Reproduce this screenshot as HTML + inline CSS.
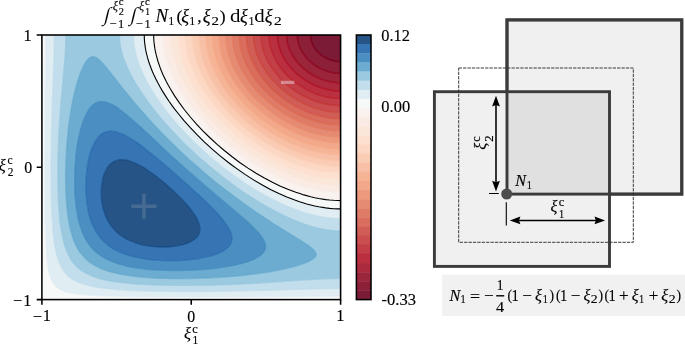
<!DOCTYPE html>
<html lang="en"><head><meta charset="utf-8"><title>Shape function integral</title>
<style>html,body{margin:0;padding:0;background:#fff}svg{display:block}text{font-family:"Liberation Serif", "DejaVu Serif", serif;fill:#000;stroke:#000;stroke-width:0.15px}.i{font-style:italic}</style></head><body>
<svg width="685" height="344" viewBox="0 0 685 344">
<rect width="685" height="344" fill="#fff"/>
<clipPath id="ax"><rect x="41.9" y="35.0" width="298.7" height="264.6"/></clipPath>
<g clip-path="url(#ax)">
<path d="M337.4,61.5 340.6,61.6 340.6,35.0 313.7,35.0 310.5,35.0 310.7,37.6 311.0,39.4 311.7,42.1 313.2,45.6 314.8,48.2 316.8,50.9 318.7,52.8 320.7,54.6 322.9,56.2 325.8,57.9 328.7,59.2 331.6,60.3 334.6,61.0Z" fill="#6d0220" fill-opacity="0.90" stroke="#6d0220" stroke-opacity="0.90" stroke-width="1.50" fill-rule="evenodd"/>
<path d="M334.2,72.9 337.6,73.3 340.6,73.4 340.6,61.6 337.6,61.5 335.6,61.2 332.6,60.6 330.6,60.0 327.7,58.8 325.8,57.9 323.7,56.7 321.7,55.3 319.5,53.5 316.8,50.9 315.4,49.1 313.7,46.5 312.4,43.8 311.4,41.2 310.7,37.8 310.5,35.0 304.8,35.0 297.2,35.0 297.4,37.6 297.7,40.3 298.3,42.9 299.1,45.6 300.2,48.2 301.6,50.9 303.2,53.5 304.8,55.7 307.4,58.8 310.7,62.0 313.7,64.4 317.7,67.0 321.7,69.1 325.7,70.8 329.6,72.0Z" fill="#7f0823" fill-opacity="0.90" stroke="#7f0823" stroke-opacity="0.90" stroke-width="1.50" fill-rule="evenodd"/>
<path d="M336.3,82.6 340.6,82.8 340.6,73.4 336.6,73.2 332.6,72.7 329.6,72.0 325.7,70.8 322.3,69.4 318.7,67.6 315.7,65.8 312.7,63.7 309.7,61.2 306.6,57.9 303.8,54.4 301.6,50.9 299.8,47.2 298.3,42.9 297.6,39.4 297.2,35.0 291.8,35.0 286.6,35.0 286.9,39.4 287.7,43.8 288.5,46.5 289.4,49.1 290.6,51.8 291.9,54.4 293.5,57.0 295.3,59.7 298.9,64.1 302.8,67.9 306.7,71.2 310.7,73.9 315.7,76.7 320.7,79.0 325.7,80.6 330.6,81.8Z" fill="#900d26" fill-opacity="0.90" stroke="#900d26" stroke-opacity="0.90" stroke-width="1.50" fill-rule="evenodd"/>
<path d="M333.2,90.6 336.6,90.9 340.6,91.0 340.6,82.8 335.6,82.6 330.6,81.8 325.7,80.6 321.1,79.1 316.7,77.2 311.7,74.5 307.7,71.9 303.5,68.5 299.8,65.0 296.7,61.5 293.8,57.5 291.4,53.5 289.8,50.0 288.2,45.6 287.5,42.9 287.0,40.3 286.7,37.6 286.6,35.0 285.8,35.0 277.3,35.0 277.4,37.6 277.8,41.2 278.5,44.7 279.5,48.2 280.8,51.8 281.9,54.4 283.8,57.9 285.8,61.3 287.8,64.1 290.7,67.6 294.9,72.0 299.8,76.3 304.8,79.9 309.7,82.9 315.7,85.8 321.4,87.9 327.7,89.6Z" fill="#a21328" fill-opacity="0.90" stroke="#a21328" stroke-opacity="0.90" stroke-width="1.50" fill-rule="evenodd"/>
<path d="M339.4,98.5 340.6,98.5 340.6,91.0 334.6,90.7 328.7,89.8 322.7,88.3 316.7,86.2 310.9,83.5 305.8,80.5 300.8,77.1 295.8,72.9 291.5,68.5 287.8,64.1 284.8,59.7 283.3,57.0 281.9,54.4 279.9,49.4 278.5,44.7 278.0,42.1 277.6,39.4 277.3,35.0 270.9,35.0 268.9,35.0 269.2,40.3 269.9,44.6 270.8,48.2 272.0,51.8 273.4,55.3 274.9,58.4 276.6,61.5 280.0,66.8 282.0,69.4 284.8,72.7 287.5,75.6 289.8,77.8 294.8,82.0 297.8,84.2 300.8,86.2 306.7,89.7 310.2,91.4 313.7,93.0 319.7,95.2 322.7,96.1 326.7,97.0 332.6,98.0 335.6,98.3Z" fill="#b3192c" fill-opacity="0.90" stroke="#b3192c" stroke-opacity="0.90" stroke-width="1.50" fill-rule="evenodd"/>
<path d="M329.8,104.7 335.6,105.3 340.6,105.5 340.6,98.5 334.6,98.2 328.7,97.4 325.7,96.8 321.9,95.9 315.7,93.8 309.7,91.3 303.5,87.9 297.8,84.2 292.3,80.0 287.5,75.6 285.0,72.9 282.7,70.3 278.8,65.0 275.6,59.7 273.0,54.4 272.0,51.8 270.9,48.5 270.1,45.6 269.6,42.9 269.0,37.6 268.9,35.0 261.0,35.0 261.1,37.6 261.4,41.2 261.9,44.6 262.6,47.3 263.5,50.9 264.9,54.8 266.7,58.8 268.5,62.3 270.6,65.9 272.9,69.4 275.9,73.3 278.9,76.8 283.8,81.9 286.8,84.6 289.8,87.0 295.8,91.3 301.8,95.0 305.1,96.7 308.7,98.4 315.7,101.2 322.7,103.3 326.7,104.1Z" fill="#bb2a34" fill-opacity="0.90" stroke="#bb2a34" stroke-opacity="0.90" stroke-width="1.50" fill-rule="evenodd"/>
<path d="M332.7,111.7 336.6,112.0 340.6,112.1 340.6,105.5 336.6,105.4 332.6,105.1 328.7,104.5 323.7,103.5 319.7,102.5 315.7,101.2 311.7,99.7 307.7,98.0 303.8,96.0 300.2,94.1 296.8,92.0 292.8,89.3 288.8,86.2 285.8,83.7 282.8,80.9 279.9,77.9 275.6,72.9 271.7,67.6 268.5,62.3 265.9,57.0 263.8,51.8 262.9,48.8 262.1,45.6 261.3,40.3 261.0,35.0 253.5,35.0 253.6,38.5 254.0,42.1 254.8,46.5 255.6,50.0 257.0,54.4 258.8,58.8 260.9,63.2 262.9,66.8 265.7,71.2 268.2,74.7 271.0,78.2 274.2,81.7 276.9,84.5 280.5,87.9 283.6,90.6 286.8,93.1 290.7,95.9 293.8,97.9 297.8,100.3 301.0,102.0 304.8,103.9 308.7,105.6 312.7,107.1 316.7,108.4 320.7,109.6 324.7,110.5 328.7,111.2Z" fill="#c43b3c" fill-opacity="0.90" stroke="#c43b3c" stroke-opacity="0.90" stroke-width="1.50" fill-rule="evenodd"/>
<path d="M330.6,117.9 335.6,118.4 340.6,118.5 340.6,112.1 336.6,112.0 331.6,111.6 326.7,110.9 322.7,110.1 318.7,109.0 313.7,107.5 309.7,106.0 305.8,104.3 301.8,102.4 297.8,100.3 293.4,97.6 289.4,95.0 285.8,92.3 281.9,89.1 278.6,86.2 275.0,82.6 270.3,77.3 266.3,72.0 262.9,66.8 260.0,61.5 257.7,56.2 256.7,53.5 255.6,50.0 255.0,47.3 254.3,43.8 253.6,38.5 253.5,35.0 246.3,35.0 246.5,39.4 247.1,44.7 248.1,49.1 249.6,54.4 251.3,58.8 253.0,62.7 255.1,66.8 257.7,71.2 260.6,75.6 263.3,79.1 266.2,82.6 269.9,86.7 272.9,89.7 275.9,92.4 278.9,95.0 282.9,98.1 285.9,100.3 289.9,102.9 293.8,105.3 297.8,107.5 301.8,109.4 305.8,111.2 309.7,112.8 313.7,114.1 317.7,115.3 321.7,116.3 325.7,117.2Z" fill="#cc4c44" fill-opacity="0.90" stroke="#cc4c44" stroke-opacity="0.90" stroke-width="1.50" fill-rule="evenodd"/>
<path d="M330.1,124.1 335.6,124.6 340.6,124.7 340.6,118.5 336.6,118.4 331.6,118.0 327.7,117.5 322.7,116.6 317.7,115.3 312.7,113.8 307.7,112.0 303.8,110.3 299.3,108.2 294.8,105.8 289.9,102.9 285.8,100.2 281.9,97.3 277.8,94.1 273.9,90.6 270.2,87.0 265.4,81.7 260.6,75.6 256.6,69.4 253.2,63.2 250.6,57.0 248.5,50.9 247.1,44.7 246.6,41.2 246.4,38.5 246.3,35.0 239.3,35.0 239.5,40.3 240.3,45.6 241.4,50.9 243.3,57.0 245.1,61.5 247.1,65.9 249.5,70.3 252.0,74.4 254.6,78.2 257.9,82.6 261.7,87.0 264.9,90.6 268.5,94.1 271.9,97.2 275.6,100.3 279.1,102.9 282.9,105.6 286.8,108.2 291.2,110.9 295.8,113.3 299.8,115.2 303.8,117.0 308.4,118.8 312.7,120.3 316.7,121.4 321.7,122.6 325.7,123.4Z" fill="#d55d4c" fill-opacity="0.90" stroke="#d55d4c" stroke-opacity="0.90" stroke-width="1.50" fill-rule="evenodd"/>
<path d="M330.8,130.3 335.6,130.7 340.6,130.8 340.6,124.7 336.6,124.6 331.6,124.3 326.7,123.6 321.7,122.6 316.7,121.4 311.7,119.9 306.7,118.2 301.8,116.1 296.8,113.8 291.8,111.2 286.8,108.2 282.8,105.6 277.9,102.0 273.9,98.8 269.9,95.4 265.8,91.4 260.1,85.3 257.2,81.7 255.0,78.7 252.8,75.6 250.5,72.0 248.5,68.5 246.7,65.0 245.1,61.5 243.7,57.9 242.4,54.4 241.4,50.9 240.6,47.3 240.0,43.8 239.4,37.6 239.3,35.0 232.5,35.0 232.7,40.3 233.5,46.5 234.9,52.6 236.9,58.8 238.7,63.2 241.0,68.2 243.6,72.9 246.4,77.3 249.4,81.7 253.0,86.4 256.6,90.6 260.7,95.0 264.4,98.5 268.3,102.0 271.9,105.0 276.1,108.2 280.9,111.5 284.8,114.0 288.8,116.3 293.8,119.0 298.8,121.3 303.2,123.2 307.7,124.9 312.7,126.5 316.7,127.7 321.7,128.8 326.7,129.7Z" fill="#dc6e57" fill-opacity="0.90" stroke="#dc6e57" stroke-opacity="0.90" stroke-width="1.50" fill-rule="evenodd"/>
<path d="M332.6,136.4 336.6,136.7 340.6,136.8 340.6,130.8 335.6,130.7 330.6,130.2 325.7,129.6 319.7,128.4 314.7,127.1 309.7,125.6 304.8,123.8 299.0,121.4 293.8,119.0 288.8,116.3 283.8,113.4 278.9,110.1 273.9,106.5 269.9,103.4 265.9,99.9 261.6,95.9 258.2,92.3 255.0,88.8 252.1,85.3 249.4,81.7 246.9,78.2 244.7,74.7 242.6,71.2 240.3,66.8 238.7,63.2 237.1,59.1 235.7,55.3 234.7,51.8 233.7,47.3 233.1,43.8 232.7,40.3 232.5,36.8 232.5,35.0 225.7,35.0 226.0,41.2 226.4,44.7 227.1,48.2 228.6,54.4 229.7,57.9 231.0,61.5 233.1,66.4 235.4,71.2 238.0,75.8 241.3,80.9 245.0,86.1 248.6,90.6 252.4,95.0 256.7,99.4 260.9,103.4 264.9,106.9 268.9,110.1 273.9,113.8 278.6,117.0 282.9,119.7 287.8,122.5 292.8,125.0 297.8,127.3 302.8,129.4 307.7,131.2 312.7,132.7 317.7,134.0 322.7,135.1 327.7,135.9Z" fill="#e37e64" fill-opacity="0.90" stroke="#e37e64" stroke-opacity="0.90" stroke-width="1.50" fill-rule="evenodd"/>
<path d="M336.2,142.6 340.6,142.7 340.6,136.8 335.6,136.6 330.6,136.2 325.5,135.5 319.7,134.5 313.7,133.0 308.7,131.5 302.8,129.4 297.8,127.3 292.7,125.0 286.8,121.9 281.9,119.0 276.9,115.9 271.9,112.4 266.9,108.5 262.3,104.7 258.0,100.6 254.1,96.7 251.0,93.4 247.8,89.7 245.0,86.2 242.0,82.0 239.5,78.2 237.1,74.1 235.0,70.3 232.8,65.9 231.0,61.5 229.4,57.0 228.1,52.6 227.1,48.2 226.3,43.8 225.9,39.4 225.7,35.0 224.1,35.0 219.0,35.0 219.1,37.6 219.6,43.8 220.1,47.3 220.9,50.9 221.8,54.4 222.8,57.9 225.5,65.0 227.9,70.3 230.7,75.6 233.9,80.9 237.1,85.5 240.8,90.6 245.0,95.6 249.3,100.3 253.7,104.7 258.0,108.6 262.7,112.6 267.2,116.1 272.2,119.7 276.9,122.8 282.0,125.8 287.8,129.0 292.8,131.4 298.2,133.8 303.8,135.9 308.7,137.6 314.7,139.3 320.7,140.7 325.7,141.6 330.6,142.2Z" fill="#ea8e70" fill-opacity="0.90" stroke="#ea8e70" stroke-opacity="0.90" stroke-width="1.50" fill-rule="evenodd"/>
<path d="M328.6,147.9 334.6,148.4 340.6,148.6 340.6,142.7 335.6,142.6 329.6,142.1 323.7,141.2 317.7,140.0 311.7,138.5 305.8,136.6 300.4,134.7 294.8,132.3 288.8,129.5 283.6,126.7 277.9,123.4 272.2,119.7 266.9,115.9 261.6,111.7 256.5,107.3 252.0,103.0 248.4,99.4 245.0,95.6 242.0,92.1 238.8,87.9 236.1,84.1 233.3,80.0 231.1,76.2 228.8,72.0 227.1,68.5 225.1,64.1 223.4,59.7 222.3,56.2 221.1,51.9 220.3,48.2 219.6,43.8 219.2,40.3 219.0,35.0 212.3,35.0 212.4,38.5 212.7,42.1 213.1,45.6 213.9,50.0 214.8,53.5 216.0,57.9 217.2,61.5 218.9,65.9 221.3,71.2 224.1,76.5 227.2,81.7 230.7,87.0 234.1,91.6 238.2,96.7 242.8,102.0 247.1,106.4 251.8,110.9 256.0,114.5 260.9,118.6 265.9,122.3 270.9,125.7 275.9,128.9 280.9,131.8 285.8,134.5 290.8,136.9 295.8,139.1 301.8,141.4 306.7,143.1 312.7,144.8 317.7,146.0 323.7,147.2Z" fill="#f19e7d" fill-opacity="0.90" stroke="#f19e7d" stroke-opacity="0.90" stroke-width="1.50" fill-rule="evenodd"/>
<path d="M330.7,154.1 335.6,154.4 340.6,154.6 340.6,148.6 334.6,148.4 328.7,147.9 322.7,147.0 316.7,145.8 310.7,144.3 303.8,142.1 297.8,139.9 291.8,137.3 285.8,134.5 279.9,131.2 273.9,127.7 267.9,123.7 262.4,119.7 257.0,115.4 252.0,111.1 247.1,106.4 243.0,102.2 239.7,98.5 236.1,94.2 233.1,90.3 230.1,86.2 227.2,81.7 224.6,77.3 222.2,72.9 220.1,68.5 218.2,64.1 216.6,59.7 215.2,55.3 214.1,50.9 213.3,46.5 212.7,42.1 212.4,37.6 212.3,35.0 205.6,35.0 205.7,38.5 206.1,42.9 206.6,46.5 207.4,50.9 208.2,54.4 209.5,58.8 210.7,62.3 212.4,66.8 215.1,72.8 218.0,78.2 221.1,83.5 224.6,88.8 228.4,94.1 232.6,99.4 237.3,104.7 242.4,110.0 247.0,114.4 252.0,118.7 257.0,122.8 262.2,126.7 267.3,130.3 272.9,133.8 278.9,137.3 284.8,140.4 289.8,142.8 295.8,145.3 301.8,147.6 307.7,149.5 313.7,151.1 319.7,152.5 325.7,153.5Z" fill="#f5ac8b" fill-opacity="0.90" stroke="#f5ac8b" stroke-opacity="0.90" stroke-width="1.50" fill-rule="evenodd"/>
<path d="M332.7,160.2 340.6,160.5 340.6,154.6 334.6,154.4 328.7,153.9 322.7,153.0 315.7,151.6 309.7,150.1 302.8,147.9 295.8,145.3 289.8,142.8 282.9,139.4 276.9,136.1 270.9,132.6 264.9,128.6 259.0,124.3 254.0,120.4 248.0,115.3 243.0,110.6 238.9,106.4 234.9,102.0 231.1,97.5 227.1,92.3 224.0,87.9 221.1,83.5 218.1,78.5 215.6,73.8 213.5,69.4 211.4,64.1 209.5,58.8 208.2,54.4 207.0,49.1 206.3,44.7 205.8,40.3 205.6,35.9 205.6,35.0 198.9,35.0 199.0,38.5 199.3,42.9 199.8,46.5 200.6,50.9 201.4,54.4 202.6,58.8 204.1,63.2 205.8,67.6 208.6,73.8 211.8,80.0 215.1,85.6 219.0,91.4 223.1,97.1 227.9,102.9 232.6,108.2 238.0,113.9 243.0,118.6 248.3,123.2 254.0,127.7 260.0,132.1 265.9,136.2 271.9,139.9 277.9,143.3 283.8,146.3 289.8,149.1 295.8,151.6 301.8,153.7 308.7,155.9 314.7,157.4 320.7,158.7 326.7,159.6Z" fill="#f7b99c" fill-opacity="0.90" stroke="#f7b99c" stroke-opacity="0.90" stroke-width="1.50" fill-rule="evenodd"/>
<path d="M333.9,166.4 340.6,166.6 340.6,160.5 334.6,160.4 327.7,159.7 321.7,158.9 314.7,157.4 308.7,155.9 301.8,153.7 294.8,151.2 287.8,148.2 280.9,144.8 274.9,141.6 267.9,137.5 261.9,133.5 256.0,129.2 250.0,124.6 244.3,119.7 238.6,114.4 234.1,109.8 229.4,104.7 225.1,99.6 221.5,95.0 218.1,90.2 214.9,85.3 211.8,80.0 209.2,75.0 206.9,70.3 204.8,65.0 202.9,59.7 201.4,54.4 200.2,49.1 199.5,44.7 199.0,39.4 198.9,35.0 192.0,35.0 192.0,35.9 192.1,39.4 192.5,43.8 193.2,48.2 194.1,52.6 194.9,56.2 196.2,60.6 197.8,65.0 199.5,69.4 202.3,75.6 205.6,81.7 209.2,87.9 213.4,94.1 218.0,100.3 223.0,106.4 228.1,112.1 233.8,117.9 239.5,123.2 245.0,128.0 251.0,132.7 257.0,137.1 262.9,141.1 268.9,144.8 274.9,148.3 281.9,151.8 287.8,154.6 294.8,157.5 301.8,160.0 307.7,161.8 314.7,163.6 320.7,164.8 327.7,165.8Z" fill="#f9c6ac" fill-opacity="0.90" stroke="#f9c6ac" stroke-opacity="0.90" stroke-width="1.50" fill-rule="evenodd"/>
<path d="M333.1,172.6 340.6,172.9 340.6,166.6 334.6,166.5 327.7,165.8 320.7,164.8 313.7,163.4 306.7,161.5 299.8,159.3 292.8,156.7 285.8,153.7 278.9,150.4 271.9,146.6 265.2,142.6 259.0,138.5 252.4,133.8 246.0,128.8 240.0,123.7 234.1,118.2 229.1,113.1 224.5,108.2 220.8,103.8 216.6,98.5 212.8,93.2 209.2,87.9 206.1,82.6 203.2,77.3 200.7,72.0 198.4,66.8 196.5,61.5 194.9,56.2 193.7,50.9 192.8,45.6 192.2,40.3 192.0,35.9 192.0,35.0 185.0,35.0 185.0,37.6 185.2,41.2 185.7,45.6 186.4,50.0 187.4,54.4 188.6,58.8 189.7,62.3 191.3,66.8 193.1,71.2 195.9,77.3 199.7,84.4 203.5,90.6 207.6,96.7 212.3,102.9 217.3,109.1 222.9,115.3 229.1,121.6 234.6,126.7 240.7,132.0 247.0,137.0 253.0,141.5 259.0,145.5 265.9,149.9 272.9,153.9 279.9,157.5 286.8,160.7 293.8,163.5 300.8,166.0 306.7,167.9 313.7,169.7 319.7,170.9 326.7,172.0Z" fill="#fcd3bc" fill-opacity="0.90" stroke="#fcd3bc" stroke-opacity="0.90" stroke-width="1.50" fill-rule="evenodd"/>
<path d="M330.1,178.8 335.6,179.2 340.6,179.3 340.6,172.9 333.6,172.6 326.7,172.0 319.7,170.9 312.7,169.4 305.8,167.6 298.8,165.4 290.8,162.4 283.8,159.4 275.9,155.5 268.9,151.7 261.9,147.5 255.0,142.8 248.0,137.8 241.8,132.9 235.1,127.2 229.1,121.6 224.1,116.6 219.6,111.7 215.1,106.4 210.9,101.2 207.0,95.9 203.5,90.6 200.2,85.3 197.3,80.0 194.7,74.7 192.3,69.4 190.3,64.1 188.6,58.8 187.2,53.5 186.1,48.2 185.4,42.9 185.1,38.5 185.0,35.0 177.7,35.0 177.8,38.5 178.2,42.9 178.7,47.3 179.5,51.8 180.6,56.2 181.8,60.6 183.3,65.0 185.0,69.4 186.8,73.8 189.8,80.0 193.7,87.0 198.1,94.1 202.4,100.3 207.1,106.4 212.3,112.6 217.8,118.8 224.1,125.1 230.1,130.7 236.1,135.9 242.2,140.8 249.0,145.9 255.0,150.0 261.9,154.5 268.9,158.5 275.9,162.2 282.9,165.6 289.8,168.6 296.8,171.2 303.8,173.5 310.7,175.4 316.7,176.8 323.7,178.0Z" fill="#fdddcb" fill-opacity="0.90" stroke="#fdddcb" stroke-opacity="0.90" stroke-width="1.50" fill-rule="evenodd"/>
<path d="M335.3,185.8 340.6,185.9 340.6,179.3 333.6,179.0 326.7,178.4 319.7,177.3 312.7,175.9 305.8,174.1 297.8,171.6 289.8,168.6 282.9,165.6 274.9,161.7 267.9,158.0 260.0,153.2 253.0,148.7 246.0,143.7 239.0,138.3 232.1,132.5 225.8,126.7 220.4,121.4 215.4,116.1 210.7,110.9 206.4,105.6 202.2,100.0 198.1,94.1 194.8,88.8 191.2,82.6 188.1,76.5 185.7,71.2 183.6,65.9 181.8,60.6 179.9,53.5 178.7,47.3 178.0,41.2 177.7,35.0 176.3,35.0 170.2,35.0 170.3,38.5 170.6,42.9 171.0,46.5 171.8,50.9 172.8,55.3 174.0,59.7 176.6,67.6 178.4,72.0 180.4,76.5 184.0,83.5 188.0,90.6 192.6,97.6 197.2,104.1 202.5,110.9 208.6,117.9 214.3,124.1 221.1,130.8 227.3,136.4 234.1,142.1 241.0,147.6 248.0,152.7 255.4,157.6 262.9,162.2 269.9,166.1 277.9,170.2 285.8,173.8 292.8,176.6 299.8,179.0 306.7,181.1 314.7,183.1 321.7,184.4 328.7,185.3Z" fill="#fbe4d6" fill-opacity="0.90" stroke="#fbe4d6" stroke-opacity="0.90" stroke-width="1.50" fill-rule="evenodd"/>
<path d="M335.4,192.9 340.6,193.0 340.6,185.9 333.6,185.7 326.7,185.1 318.7,183.9 311.7,182.4 303.8,180.2 296.8,178.0 288.8,175.0 280.9,171.6 272.9,167.7 264.9,163.4 257.0,158.6 250.0,154.0 242.6,148.8 235.1,142.9 228.1,137.1 221.1,130.8 215.2,125.0 210.2,119.7 205.2,114.0 200.4,108.2 196.2,102.8 192.0,96.7 188.0,90.6 184.4,84.4 181.7,79.1 178.8,72.9 176.6,67.6 174.8,62.3 172.8,55.3 171.3,48.2 170.4,41.2 170.2,35.0 168.3,35.0 162.2,35.0 162.4,39.4 162.7,43.8 163.2,47.3 164.0,51.8 165.0,56.2 166.3,60.6 167.7,65.0 169.3,69.4 171.2,73.8 173.2,78.2 176.8,85.3 181.0,92.3 185.6,99.4 191.3,107.3 197.0,114.4 203.1,121.4 209.8,128.5 216.1,134.7 222.9,140.8 230.1,146.9 237.1,152.4 245.0,158.2 253.0,163.5 260.0,167.8 267.9,172.3 275.9,176.4 283.8,180.1 291.8,183.3 299.8,186.1 306.7,188.2 313.7,189.9 321.7,191.4 328.7,192.4Z" fill="#faeae1" fill-opacity="0.90" stroke="#faeae1" stroke-opacity="0.90" stroke-width="1.50" fill-rule="evenodd"/>
<path d="M328.7,199.9 334.6,200.4 340.6,200.6 340.6,193.0 333.6,192.8 325.7,192.0 317.7,190.7 309.7,189.0 301.8,186.7 293.8,184.0 285.8,180.9 276.9,176.9 267.9,172.3 260.0,167.8 252.0,162.9 244.0,157.5 236.1,151.7 228.1,145.3 220.9,139.1 213.3,132.0 208.0,126.7 202.3,120.6 197.0,114.4 192.0,108.2 188.1,102.9 183.8,96.7 179.9,90.6 176.4,84.4 173.2,78.2 170.4,72.0 168.0,65.9 166.3,60.6 164.6,54.4 163.5,49.1 162.7,43.8 162.3,38.5 162.2,35.0 153.7,35.0 153.8,38.5 154.1,42.9 154.7,47.3 155.7,52.6 156.7,57.0 158.0,61.5 159.8,66.8 161.9,72.0 164.3,77.3 167.8,84.4 172.4,92.3 177.0,99.4 182.6,107.3 188.9,115.3 194.9,122.3 201.4,129.4 208.2,136.1 215.1,142.6 222.1,148.7 229.7,155.0 237.1,160.5 244.2,165.5 252.0,170.7 260.0,175.5 267.9,180.0 274.9,183.5 282.9,187.2 290.8,190.5 298.8,193.3 306.7,195.7 313.7,197.5 321.7,199.0Z" fill="#f8f1ed" fill-opacity="0.90" stroke="#f8f1ed" stroke-opacity="0.90" stroke-width="1.50" fill-rule="evenodd"/>
<path d="M41.9,299.6 340.6,299.6 340.6,296.2 226.1,296.9 177.3,297.0 130.5,296.6 113.6,296.2 99.6,295.7 89.9,295.2 81.7,294.5 74.8,293.6 69.8,292.7 65.8,291.7 61.8,290.2 58.8,288.6 56.9,287.3 55.9,286.4 53.8,284.0 52.0,281.1 50.5,277.6 49.2,273.1 48.2,267.8 47.4,262.6 46.7,255.5 46.2,247.6 45.7,235.2 45.3,219.3 45.0,200.8 44.9,178.8 45.0,136.4 45.6,61.5 45.7,35.0 41.9,35.0ZM334.7,208.8 340.6,208.9 340.6,200.6 333.6,200.3 325.7,199.6 317.7,198.3 309.7,196.5 301.8,194.3 293.8,191.6 284.8,188.0 276.9,184.5 267.9,180.0 260.0,175.5 251.0,170.1 243.0,164.8 235.1,159.0 226.4,152.3 219.1,146.1 211.2,139.0 204.9,132.9 198.9,126.7 193.3,120.6 188.1,114.4 183.3,108.2 178.8,102.0 174.6,95.9 170.8,89.7 166.9,82.6 163.4,75.6 160.5,68.5 158.0,61.5 156.1,54.4 154.8,48.2 153.9,41.2 153.7,35.0 150.4,35.0 144.3,35.0 144.5,40.3 145.0,45.6 145.7,50.0 146.5,53.5 147.6,57.9 149.0,62.3 150.5,66.8 152.3,71.2 154.2,75.6 156.8,80.9 160.6,87.9 165.4,95.9 170.8,103.8 176.8,111.7 183.2,119.7 190.3,127.6 197.8,135.5 205.1,142.6 212.8,149.7 221.1,156.7 229.1,163.0 237.1,168.9 246.0,175.1 254.0,180.1 262.9,185.4 270.9,189.7 279.9,194.0 287.8,197.4 295.8,200.5 303.8,203.1 311.7,205.3 319.7,207.0 327.7,208.1Z" fill="#f6f7f7" fill-opacity="0.90" stroke="#f6f7f7" stroke-opacity="0.50" stroke-width="1.20" fill-rule="evenodd"/>
<path d="M174.8,297.0 225.1,296.9 340.6,296.2 340.6,288.7 312.7,289.0 250.0,290.7 218.1,291.3 183.3,291.6 153.4,291.2 138.5,290.8 126.5,290.2 115.6,289.5 106.6,288.6 98.7,287.6 91.7,286.3 84.8,284.6 79.7,282.9 75.6,281.1 71.8,278.8 69.8,277.4 67.9,275.8 65.3,273.1 62.7,269.6 61.7,267.8 60.3,265.2 58.5,260.8 56.9,255.5 55.5,249.3 54.3,242.3 53.3,234.3 52.6,225.5 51.9,214.9 51.4,203.5 51.1,190.2 51.0,176.1 51.1,155.0 51.5,132.9 52.1,110.0 53.8,60.6 54.1,47.3 54.2,35.0 45.7,35.0 44.9,160.2 45.0,197.3 45.4,225.5 46.2,246.7 46.7,254.6 47.3,261.7 48.0,267.0 49.0,272.3 50.2,276.7 51.6,280.2 53.1,282.8 55.1,285.5 56.9,287.3 59.8,289.2 63.2,290.8 66.8,292.0 71.8,293.1 76.7,293.9 82.7,294.6 90.7,295.2 109.6,296.1 137.5,296.7ZM336.2,218.5 340.6,218.6 340.6,208.9 333.6,208.7 325.7,207.9 317.7,206.6 309.7,204.8 300.8,202.2 292.8,199.4 284.8,196.2 275.9,192.1 266.9,187.6 258.0,182.5 250.0,177.6 241.0,171.7 232.1,165.3 223.3,158.5 215.1,151.7 207.0,144.4 200.5,138.2 194.4,132.0 188.6,125.8 182.5,118.8 177.5,112.6 172.8,106.4 167.8,99.4 163.8,93.2 159.1,85.3 155.5,78.2 151.9,70.3 149.3,63.2 147.1,56.2 145.6,49.1 144.6,42.1 144.4,38.5 144.3,35.0 138.5,35.0 133.4,35.0 133.5,38.5 133.7,42.1 134.2,45.6 134.8,49.1 135.7,53.5 136.7,57.0 138.0,61.5 139.6,65.9 141.4,70.3 143.4,74.7 147.9,83.5 152.6,91.4 157.7,99.4 163.4,107.3 169.6,115.3 177.1,124.1 184.3,132.0 192.0,140.0 200.3,147.9 208.2,155.0 217.1,162.6 226.1,169.7 235.1,176.4 244.0,182.6 253.0,188.3 261.9,193.7 270.9,198.6 279.9,203.0 287.8,206.5 296.8,210.1 304.8,212.7 312.7,214.9 320.7,216.7 328.7,217.9Z" fill="#ddebf2" fill-opacity="0.90" stroke="#ddebf2" stroke-opacity="0.50" stroke-width="1.20" fill-rule="evenodd"/>
<path d="M138.5,290.8 153.4,291.2 170.3,291.5 189.3,291.6 209.2,291.4 247.6,290.8 315.7,289.0 340.6,288.7 340.6,278.4 329.6,278.6 316.7,279.1 263.9,282.8 239.0,284.2 212.2,285.1 187.3,285.5 173.3,285.5 159.4,285.2 147.4,284.7 136.5,284.1 126.5,283.2 117.6,282.2 109.6,280.9 102.3,279.3 96.7,277.7 91.2,275.8 86.7,273.7 82.7,271.4 79.0,268.7 76.1,266.1 73.0,262.6 70.6,259.0 68.1,254.6 66.2,250.2 64.4,244.9 62.8,238.7 61.6,232.6 60.5,225.5 59.6,217.6 58.8,208.6 58.1,193.8 57.8,177.9 57.9,160.2 58.5,141.7 59.3,125.0 60.5,108.2 61.8,92.0 64.3,65.0 65.1,54.4 65.6,44.7 65.8,35.0 54.2,35.0 54.1,47.3 53.8,60.6 52.0,111.7 51.4,137.3 51.0,163.8 51.1,187.6 51.3,199.9 51.7,211.4 52.3,221.1 52.9,229.9 53.7,237.9 54.7,244.9 55.8,251.0 57.2,256.4 58.8,261.6 60.8,266.1 62.8,269.7 65.3,273.1 67.9,275.8 71.2,278.4 74.8,280.6 78.7,282.5 83.7,284.3 88.7,285.6 94.7,286.9 101.6,288.0 109.6,288.9 117.6,289.6 127.5,290.3ZM336.7,230.8 340.6,230.9 340.6,218.6 333.6,218.3 325.7,217.5 317.7,216.1 309.7,214.2 301.8,211.8 292.8,208.6 283.8,204.8 274.9,200.6 265.9,195.9 257.0,190.8 247.0,184.6 238.0,178.5 229.1,172.0 219.6,164.7 211.1,157.6 202.2,149.7 195.6,143.5 189.4,137.3 183.4,131.1 177.8,125.0 171.8,117.9 166.8,111.7 162.1,105.6 157.7,99.4 152.0,90.6 146.9,81.7 143.0,73.8 139.6,65.9 138.0,61.5 136.9,57.9 136.0,54.4 134.9,50.0 134.2,45.6 133.7,42.1 133.5,38.5 133.4,35.0 123.5,35.0 119.5,35.0 119.6,39.4 120.0,42.9 120.7,47.3 121.7,51.8 123.9,58.8 125.2,62.3 127.0,66.8 129.1,71.2 131.3,75.6 136.3,84.4 142.0,93.2 147.5,101.2 154.2,110.0 161.5,118.8 169.3,127.6 177.5,136.4 186.3,145.2 195.2,153.6 204.6,162.0 214.0,169.9 223.1,177.2 233.1,184.6 243.0,191.6 252.0,197.6 261.9,203.7 271.9,209.4 280.9,214.0 289.8,218.2 297.8,221.6 306.7,224.8 313.7,227.0 321.7,228.9 329.6,230.2Z" fill="#bbdaea" fill-opacity="0.90" stroke="#bbdaea" stroke-opacity="0.50" stroke-width="1.20" fill-rule="evenodd"/>
<path d="M174.9,285.5 189.3,285.5 203.2,285.3 218.1,285.0 234.1,284.4 263.0,282.8 317.7,279.1 329.6,278.6 340.6,278.4 340.6,230.9 335.6,230.7 330.6,230.3 325.7,229.6 320.7,228.7 315.7,227.5 309.7,225.8 303.8,223.8 297.8,221.6 291.8,219.1 285.8,216.4 279.9,213.5 272.9,209.9 265.9,206.0 259.0,201.9 252.0,197.6 246.0,193.7 239.0,188.9 232.1,183.9 225.1,178.7 218.1,173.2 211.2,167.6 204.6,162.0 198.2,156.4 191.9,150.5 185.4,144.4 179.3,138.2 173.3,132.0 167.7,125.8 162.2,119.7 157.1,113.5 152.9,108.2 148.2,102.0 142.0,93.2 135.8,83.5 130.9,74.7 128.7,70.3 126.7,65.9 124.9,61.5 123.6,57.9 122.2,53.5 121.3,50.0 120.4,45.6 119.9,42.1 119.6,38.5 119.5,35.0 65.8,35.0 65.6,44.7 65.0,56.2 61.2,99.4 59.7,118.8 58.7,136.4 58.0,155.0 57.8,166.4 57.8,177.0 57.9,186.7 58.2,196.4 58.6,205.2 59.2,213.2 59.8,220.2 60.8,227.8 62.4,237.0 63.5,241.4 64.4,244.9 65.6,248.4 66.8,251.6 68.1,254.6 69.8,257.7 71.1,259.9 73.0,262.6 74.8,264.7 77.0,267.0 79.0,268.7 81.7,270.8 84.1,272.3 87.3,274.0 90.7,275.6 93.5,276.7 96.7,277.7 100.6,278.9 104.6,279.9 109.6,280.9 119.6,282.4 131.5,283.7 144.5,284.6 159.4,285.2ZM164.4,278.5 150.4,277.8 138.5,276.9 128.5,275.6 118.6,273.9 113.6,272.7 109.6,271.6 106.0,270.5 102.6,269.3 99.3,267.8 95.8,266.1 92.7,264.3 90.1,262.6 87.7,260.6 85.0,258.1 82.7,255.7 81.1,253.7 79.2,251.1 77.7,248.7 76.1,245.8 74.8,242.8 73.5,239.6 72.2,236.1 71.2,232.6 70.1,228.2 68.3,219.3 67.0,208.8 66.2,199.1 65.7,188.5 65.5,177.0 65.7,165.5 66.2,154.1 67.0,142.6 68.0,131.1 69.5,119.7 70.9,110.0 72.9,99.4 75.2,89.7 77.7,80.6 80.1,73.8 82.7,67.4 84.7,63.6 85.7,62.0 87.7,59.4 88.7,58.4 89.7,57.7 90.7,57.1 91.7,56.8 92.7,56.6 93.7,56.7 94.7,56.9 96.7,57.8 98.7,59.3 100.6,61.1 103.6,64.2 107.6,69.0 123.2,88.8 131.8,99.4 140.0,109.1 147.8,117.9 155.9,126.7 163.6,134.7 171.5,142.6 180.6,151.4 189.2,159.4 198.1,167.3 207.2,175.1 216.1,182.4 226.1,190.3 236.1,197.8 246.0,205.1 256.0,212.0 272.9,223.2 300.8,240.5 308.8,245.8 312.2,248.4 314.1,250.2 315.4,252.0 315.9,252.9 316.1,253.7 316.2,254.6 316.0,255.5 315.6,256.4 315.0,257.3 314.1,258.1 313.0,259.0 310.1,260.8 308.3,261.7 304.0,263.4 296.8,265.8 289.1,267.8 277.9,270.3 267.0,272.3 254.8,274.0 243.0,275.4 230.1,276.6 217.1,277.5 203.2,278.2 190.3,278.6 177.3,278.7Z" fill="#90c4dd" fill-opacity="0.90" stroke="#90c4dd" stroke-opacity="0.50" stroke-width="1.20" fill-rule="evenodd"/>
<path d="M163.4,278.4 176.3,278.7 189.3,278.6 203.2,278.2 216.8,277.6 229.5,276.7 243.0,275.4 254.8,274.0 267.0,272.3 277.9,270.3 289.1,267.8 296.8,265.8 304.0,263.4 308.3,261.7 310.1,260.8 313.0,259.0 314.1,258.1 315.0,257.3 315.6,256.4 316.0,255.5 316.2,254.6 316.1,253.7 315.9,252.9 315.4,252.0 314.1,250.2 312.2,248.4 308.8,245.8 300.8,240.5 272.9,223.2 256.0,212.0 246.0,205.1 236.1,197.8 226.1,190.3 216.1,182.4 207.2,175.1 198.1,167.3 189.2,159.4 180.6,151.4 171.5,142.6 163.6,134.7 155.9,126.7 148.4,118.6 140.0,109.1 131.8,99.4 123.2,88.8 107.6,69.0 103.6,64.2 100.6,61.1 98.7,59.3 96.7,57.8 94.7,56.9 93.7,56.7 92.7,56.6 91.7,56.8 90.7,57.1 89.7,57.7 88.7,58.4 87.7,59.4 85.7,62.0 84.7,63.6 82.7,67.4 80.1,73.8 77.7,80.6 75.8,87.5 73.3,97.6 71.4,107.3 69.7,117.9 68.2,129.4 67.1,140.8 66.3,152.3 65.8,163.8 65.5,175.2 65.6,186.7 66.1,197.3 66.8,207.0 68.1,217.6 69.7,226.4 71.7,234.3 72.8,237.9 74.2,241.4 75.7,244.9 77.1,247.6 78.7,250.4 80.7,253.3 82.7,255.7 85.0,258.1 86.8,259.9 89.7,262.2 92.7,264.3 95.7,266.0 98.7,267.5 101.6,268.9 104.6,270.0 108.7,271.4 112.6,272.5 117.6,273.7 126.5,275.3 137.5,276.8 149.4,277.8ZM165.4,270.5 154.4,270.0 144.5,269.1 135.4,267.8 126.5,266.1 118.6,264.0 112.1,261.7 106.3,259.0 103.2,257.3 100.6,255.6 98.0,253.7 95.9,252.0 92.3,248.4 90.7,246.6 88.7,244.0 87.0,241.4 85.4,238.7 82.7,233.2 81.4,229.9 80.2,226.4 78.3,219.3 76.7,211.3 75.8,204.3 75.1,197.3 74.8,190.2 74.6,182.3 74.7,174.4 75.1,166.4 75.7,158.5 76.4,151.4 77.5,144.4 78.7,137.3 80.1,131.1 81.7,125.4 83.7,119.6 85.7,115.0 87.7,111.3 89.8,108.2 91.7,106.0 93.7,104.3 95.9,102.9 97.7,102.1 98.7,101.9 100.6,101.5 103.6,101.6 105.6,102.0 108.6,102.9 111.6,104.3 114.6,106.0 117.6,107.9 121.6,110.8 125.5,113.9 130.5,118.1 142.9,129.4 169.5,154.1 188.1,170.8 207.2,187.4 239.7,214.9 245.8,220.2 250.6,224.6 256.7,230.8 259.1,233.5 261.1,236.1 262.9,238.7 263.9,240.5 265.0,243.2 265.4,244.9 265.5,247.6 265.1,249.3 264.8,250.2 263.9,251.8 263.2,252.9 261.9,254.2 260.4,255.5 257.0,257.7 252.5,259.9 247.0,261.9 240.0,263.9 232.1,265.7 224.1,267.1 215.1,268.3 205.2,269.4 195.2,270.1 185.3,270.5 175.3,270.6Z" fill="#5ca3cb" fill-opacity="0.90" stroke="#5ca3cb" stroke-opacity="0.50" stroke-width="1.20" fill-rule="evenodd"/>
<path d="M165.2,270.5 175.3,270.6 185.3,270.5 195.2,270.1 205.2,269.4 215.1,268.3 224.1,267.1 232.1,265.7 240.0,263.9 247.0,261.9 252.5,259.9 257.0,257.7 260.4,255.5 261.9,254.2 263.2,252.9 263.9,251.8 264.8,250.2 265.1,249.3 265.5,247.6 265.4,244.9 265.0,243.2 263.9,240.5 262.9,238.7 261.1,236.1 259.1,233.5 256.7,230.8 250.6,224.6 245.8,220.2 239.7,214.9 207.2,187.4 188.3,170.9 169.5,154.1 143.5,129.8 131.5,119.0 126.5,114.8 122.5,111.6 118.6,108.6 115.6,106.6 112.6,104.8 109.6,103.4 106.6,102.3 104.6,101.8 101.6,101.5 99.6,101.7 98.1,102.0 96.7,102.5 94.7,103.6 92.7,105.1 90.7,107.1 88.7,109.7 86.5,113.5 84.4,117.9 82.4,123.2 80.7,128.9 79.1,135.5 77.7,142.6 76.7,149.1 75.8,156.7 75.2,164.7 74.7,172.6 74.6,181.4 74.7,189.4 75.1,196.4 75.7,203.5 76.6,210.5 78.1,218.5 80.0,225.5 82.1,231.7 83.6,235.2 84.9,237.9 86.4,240.5 88.1,243.2 89.7,245.3 91.7,247.7 93.7,249.9 95.9,252.0 98.0,253.7 100.6,255.6 103.2,257.3 106.3,259.0 112.1,261.7 118.6,264.0 126.5,266.1 135.4,267.8 144.5,269.1 154.4,270.0ZM152.4,259.9 144.5,258.9 136.5,257.5 129.5,255.7 123.5,253.7 117.6,251.1 112.6,248.4 110.0,246.7 107.6,244.9 103.6,241.4 101.6,239.3 99.7,237.0 96.7,232.6 95.1,229.9 93.7,227.3 91.4,222.0 89.4,215.8 87.8,208.8 86.7,201.7 86.0,194.6 85.8,190.2 85.8,184.9 85.9,179.6 86.2,175.2 86.7,170.8 87.2,166.4 88.0,162.0 89.0,157.6 90.2,153.2 91.3,149.7 92.7,146.3 94.0,143.5 95.7,140.6 97.4,138.2 99.0,136.4 100.9,134.7 102.6,133.5 104.6,132.4 106.6,131.8 108.6,131.4 110.6,131.2 113.6,131.4 115.6,131.7 118.6,132.5 121.6,133.6 124.5,135.0 130.5,138.3 137.5,142.9 145.4,148.8 152.4,154.4 161.4,161.9 181.8,179.6 200.2,196.4 207.6,203.5 213.8,209.6 218.0,214.0 221.8,218.5 224.7,222.0 227.2,225.5 229.3,229.0 230.5,231.7 231.2,233.5 231.6,235.2 232.0,237.9 231.8,240.5 231.0,243.2 230.1,244.9 229.4,245.8 228.1,247.3 226.9,248.4 225.1,249.8 223.1,251.0 219.5,252.9 215.0,254.6 210.2,256.1 204.2,257.5 197.2,258.8 190.3,259.7 183.3,260.3 175.3,260.7 167.4,260.7 159.4,260.4Z" fill="#3783bb" fill-opacity="0.90" stroke="#3783bb" stroke-opacity="0.50" stroke-width="1.20" fill-rule="evenodd"/>
<path d="M152.3,259.9 159.4,260.4 167.4,260.7 175.3,260.7 183.3,260.3 190.3,259.7 197.2,258.8 204.2,257.5 210.2,256.1 215.0,254.6 219.5,252.9 223.1,251.0 225.1,249.8 226.9,248.4 228.1,247.3 229.4,245.8 230.1,244.9 231.0,243.2 231.8,240.5 232.0,237.9 231.6,235.2 231.2,233.5 230.5,231.7 229.3,229.0 227.2,225.5 224.7,222.0 221.8,218.5 218.0,214.0 213.8,209.6 207.6,203.5 201.2,197.3 182.8,180.5 162.4,162.7 153.4,155.2 146.4,149.6 138.5,143.6 131.5,138.9 125.5,135.5 122.5,134.1 119.6,132.9 116.6,131.9 114.6,131.5 111.6,131.2 109.6,131.2 107.6,131.5 105.6,132.1 103.6,132.9 101.6,134.1 99.6,135.8 97.7,137.9 96.1,140.0 94.7,142.3 93.2,145.2 91.7,148.7 90.7,151.5 89.4,155.8 88.4,160.2 87.5,164.7 86.8,169.9 86.3,174.4 86.0,178.8 85.8,184.1 85.8,189.4 86.0,193.8 86.7,201.7 87.8,208.8 89.4,215.8 91.4,222.0 93.7,227.3 95.1,229.9 96.7,232.6 99.7,237.0 101.6,239.3 103.6,241.4 107.6,244.9 110.0,246.7 112.6,248.4 117.6,251.1 123.5,253.7 129.5,255.7 136.5,257.5 144.5,258.9ZM154.4,246.7 148.4,246.0 143.5,245.1 138.5,243.8 133.8,242.3 129.5,240.5 125.5,238.5 121.7,236.1 118.6,233.7 115.4,230.8 112.6,227.7 110.3,224.6 108.1,221.1 106.3,217.6 104.6,213.2 103.2,208.8 102.3,204.3 101.5,199.1 101.2,192.9 101.5,186.7 102.2,181.4 103.5,176.1 105.1,171.7 106.5,169.1 107.6,167.3 109.7,164.7 111.6,163.0 112.6,162.2 113.6,161.6 115.6,160.7 118.6,159.9 120.6,159.6 122.5,159.6 124.5,159.8 126.5,160.1 130.5,161.2 135.5,163.2 140.1,165.5 144.5,168.1 149.4,171.4 154.4,175.0 159.4,178.8 165.4,183.7 170.7,188.5 176.3,193.6 180.9,198.2 185.1,202.6 188.2,206.1 191.7,210.5 194.2,214.0 196.4,217.6 197.7,220.2 199.1,223.7 199.7,226.4 199.9,229.0 199.8,230.8 199.1,233.5 198.2,235.2 197.2,236.7 196.2,237.8 194.2,239.5 192.2,240.8 189.3,242.4 185.3,243.9 181.8,244.9 177.7,245.8 173.3,246.4 169.3,246.8 164.4,247.0 159.4,247.0Z" fill="#2065ab" fill-opacity="0.90" stroke="#2065ab" stroke-opacity="0.50" stroke-width="1.20" fill-rule="evenodd"/>
<path d="M154.1,246.7 158.4,247.0 163.4,247.1 168.3,246.9 173.3,246.4 177.7,245.8 181.8,244.9 185.3,243.9 189.3,242.4 192.2,240.8 194.2,239.5 196.2,237.8 197.2,236.7 198.2,235.2 199.1,233.5 199.8,230.8 199.9,229.0 199.7,226.4 199.1,223.7 197.7,220.2 196.4,217.6 194.2,214.0 191.7,210.5 188.2,206.1 185.1,202.6 180.9,198.2 176.3,193.6 170.7,188.5 165.4,183.7 160.4,179.6 154.4,175.0 149.4,171.4 144.5,168.1 140.5,165.8 135.5,163.2 130.5,161.2 126.5,160.1 124.5,159.8 122.5,159.6 120.6,159.6 118.6,159.9 115.6,160.7 113.6,161.6 112.6,162.2 111.6,163.0 109.7,164.7 107.6,167.3 105.6,170.8 104.6,172.9 103.6,175.7 102.4,180.5 101.6,185.8 101.2,192.0 101.4,198.2 102.1,203.5 103.0,207.9 104.3,212.3 105.6,216.0 107.6,220.2 109.7,223.7 112.6,227.7 115.4,230.8 118.6,233.7 121.7,236.1 125.5,238.5 129.5,240.5 133.8,242.3 138.5,243.8 143.5,245.1 148.4,246.0Z" fill="#0e4179" fill-opacity="0.90" stroke="#0e4179" stroke-opacity="0.50" stroke-width="1.20" fill-rule="evenodd"/>
<path d="M340.6,200.6 337.6,200.5 333.6,200.3 329.6,200.0 325.7,199.6 318.7,198.5 314.7,197.7 310.7,196.8 303.8,194.9 299.8,193.6 295.8,192.3 287.8,189.3 279.9,185.9 271.9,182.0 263.9,177.8 256.0,173.2 248.0,168.1 240.0,162.7 232.1,156.8 224.3,150.5 217.1,144.4 210.2,138.0 203.1,131.1 196.5,124.1 190.3,117.0 184.6,110.0 179.4,102.9 174.6,95.9 170.3,88.8 168.3,85.3 166.4,81.7 164.7,78.2 163.0,74.7 161.5,71.2 160.1,67.6 158.0,61.5 157.0,57.9 156.1,54.4 155.3,50.9 154.8,48.2 154.3,44.7 153.9,41.2 153.7,37.6 153.7,35.0" fill="none" stroke="#000" stroke-width="1.1"/>
<path d="M340.6,208.9 337.6,208.9 333.6,208.7 329.6,208.4 325.7,207.9 318.7,206.8 314.7,206.0 310.7,205.0 306.7,204.0 302.8,202.8 298.8,201.5 294.8,200.1 286.8,197.0 278.9,193.5 270.9,189.7 265.9,187.0 261.9,184.8 254.0,180.1 250.0,177.6 245.0,174.4 237.1,168.9 232.4,165.5 228.1,162.2 220.1,155.9 212.2,149.1 204.2,141.8 197.2,134.9 190.3,127.6 184.0,120.6 178.2,113.5 174.7,109.1 172.1,105.6 169.0,101.2 166.6,97.6 162.2,90.6 160.1,87.0 157.7,82.6 155.9,79.1 154.2,75.6 152.6,72.0 151.2,68.5 149.9,65.0 148.7,61.5 147.6,57.9 146.7,54.4 145.9,50.9 145.4,48.2 144.9,44.7 144.5,41.2 144.3,37.6 144.3,35.0" fill="none" stroke="#000" stroke-width="1.1"/>
<path d="M131.4,206.2H156.4M143.9,193.7V218.7" stroke="#c8c8c8" stroke-opacity="0.2" stroke-width="3.5" fill="none"/>
<rect x="281" y="80.8" width="13.4" height="3.2" fill="#e6e6e6" fill-opacity="0.45"/>
</g>
<rect x="41.9" y="35.0" width="298.7" height="264.6" fill="none" stroke="#000" stroke-width="1.55"/>
<path d="M41.90,299.6v5.2M191.25,299.6v5.2M340.60,299.6v5.2M41.9,35.00h-5.2M41.9,167.30h-5.2M41.9,299.60h-5.2" stroke="#000" stroke-width="1.55" fill="none"/>
<rect x="356.4" y="35.00" width="14.6" height="9.42" fill="#0e4179" fill-opacity="0.90"/>
<rect x="356.4" y="44.12" width="14.6" height="9.42" fill="#2065ab" fill-opacity="0.90"/>
<rect x="356.4" y="53.25" width="14.6" height="9.42" fill="#3783bb" fill-opacity="0.90"/>
<rect x="356.4" y="62.37" width="14.6" height="9.42" fill="#5ca3cb" fill-opacity="0.90"/>
<rect x="356.4" y="71.50" width="14.6" height="9.42" fill="#90c4dd" fill-opacity="0.90"/>
<rect x="356.4" y="80.62" width="14.6" height="9.42" fill="#bbdaea" fill-opacity="0.90"/>
<rect x="356.4" y="89.74" width="14.6" height="9.42" fill="#ddebf2" fill-opacity="0.90"/>
<rect x="356.4" y="98.87" width="14.6" height="9.42" fill="#f6f7f7" fill-opacity="0.90"/>
<rect x="356.4" y="107.99" width="14.6" height="9.42" fill="#f8f1ed" fill-opacity="0.90"/>
<rect x="356.4" y="117.12" width="14.6" height="9.42" fill="#faeae1" fill-opacity="0.90"/>
<rect x="356.4" y="126.24" width="14.6" height="9.42" fill="#fbe4d6" fill-opacity="0.90"/>
<rect x="356.4" y="135.37" width="14.6" height="9.42" fill="#fdddcb" fill-opacity="0.90"/>
<rect x="356.4" y="144.49" width="14.6" height="9.42" fill="#fcd3bc" fill-opacity="0.90"/>
<rect x="356.4" y="153.61" width="14.6" height="9.42" fill="#f9c6ac" fill-opacity="0.90"/>
<rect x="356.4" y="162.74" width="14.6" height="9.42" fill="#f7b99c" fill-opacity="0.90"/>
<rect x="356.4" y="171.86" width="14.6" height="9.42" fill="#f5ac8b" fill-opacity="0.90"/>
<rect x="356.4" y="180.99" width="14.6" height="9.42" fill="#f19e7d" fill-opacity="0.90"/>
<rect x="356.4" y="190.11" width="14.6" height="9.42" fill="#ea8e70" fill-opacity="0.90"/>
<rect x="356.4" y="199.23" width="14.6" height="9.42" fill="#e37e64" fill-opacity="0.90"/>
<rect x="356.4" y="208.36" width="14.6" height="9.42" fill="#dc6e57" fill-opacity="0.90"/>
<rect x="356.4" y="217.48" width="14.6" height="9.42" fill="#d55d4c" fill-opacity="0.90"/>
<rect x="356.4" y="226.61" width="14.6" height="9.42" fill="#cc4c44" fill-opacity="0.90"/>
<rect x="356.4" y="235.73" width="14.6" height="9.42" fill="#c43b3c" fill-opacity="0.90"/>
<rect x="356.4" y="244.86" width="14.6" height="9.42" fill="#bb2a34" fill-opacity="0.90"/>
<rect x="356.4" y="253.98" width="14.6" height="9.42" fill="#b3192c" fill-opacity="0.90"/>
<rect x="356.4" y="263.10" width="14.6" height="9.42" fill="#a21328" fill-opacity="0.90"/>
<rect x="356.4" y="272.23" width="14.6" height="9.42" fill="#900d26" fill-opacity="0.90"/>
<rect x="356.4" y="281.35" width="14.6" height="9.42" fill="#7f0823" fill-opacity="0.90"/>
<rect x="356.4" y="290.48" width="14.6" height="9.42" fill="#6d0220" fill-opacity="0.90"/>
<rect x="356.4" y="35.0" width="14.6" height="264.6" fill="none" stroke="#000" stroke-width="1.55"/>
<text x="381.34" y="41.00" font-size="16.40">0.12</text>
<text x="381.34" y="112.10" font-size="15.90" textLength="28.80" lengthAdjust="spacingAndGlyphs">0.00</text>
<text x="381.54" y="305.30" font-size="16.40" textLength="34.50" lengthAdjust="spacingAndGlyphs">-0.33</text>
<text x="32.68" y="322.00" font-size="16.40">−<tspan dx="0.90" dy="-0.60">1</tspan></text>
<text x="187.22" y="321.60" font-size="15.90">0</text>
<text x="336.25" y="321.40" font-size="16.40">1</text>
<text x="12.98" y="306.40" font-size="16.40">−<tspan dx="0.90" dy="-0.60">1</tspan></text>
<text x="24.19" y="173.30" font-size="15.90">0</text>
<text x="23.58" y="41.30" font-size="16.40">1</text>
<text x="-1.39" y="170.60" font-size="16.40" class="i">ξ</text>
<text x="7.44" y="164.30" font-size="11.50">c</text>
<text x="7.64" y="175.60" font-size="11.50">2</text>
<text x="184.11" y="338.80" font-size="16.40" class="i">ξ</text>
<text x="192.30" y="332.70" font-size="11.50" textLength="5.51" lengthAdjust="spacingAndGlyphs">c</text>
<text x="192.47" y="344.40" font-size="11.50">1</text>
<text transform="translate(103.50 21.3) skewX(-13) scale(0.920 1)" font-size="19.8" style="stroke-width:0">∫</text>
<text x="109.38" y="28.00" font-size="12.40">−<tspan dx="1.60" dy="-0.50">1</tspan></text>
<text x="112.64" y="9.90" font-size="13.20" class="i" textLength="5.20" lengthAdjust="spacingAndGlyphs">ξ</text>
<text x="118.67" y="4.80" font-size="9.80" textLength="4.79" lengthAdjust="spacingAndGlyphs">c</text>
<text x="118.69" y="14.60" font-size="9.40" textLength="5.17" lengthAdjust="spacingAndGlyphs">2</text>
<text transform="translate(130.00 21.3) skewX(-13) scale(0.920 1)" font-size="19.8" style="stroke-width:0">∫</text>
<text x="135.78" y="28.00" font-size="12.40">−<tspan dx="1.60" dy="-0.50">1</tspan></text>
<text x="138.94" y="9.90" font-size="13.20" class="i" textLength="5.20" lengthAdjust="spacingAndGlyphs">ξ</text>
<text x="144.97" y="4.80" font-size="9.80" textLength="4.79" lengthAdjust="spacingAndGlyphs">c</text>
<text x="145.35" y="14.60" font-size="9.40">1</text>
<text x="155.59" y="21.90" font-size="18.40" class="i" textLength="12.64" lengthAdjust="spacingAndGlyphs">N</text>
<text x="168.40" y="24.60" font-size="12.40" textLength="5.58" lengthAdjust="spacingAndGlyphs">1</text>
<text x="176.50" y="21.90" font-size="17.60">(</text>
<text x="181.25" y="21.90" font-size="18.20" class="i">ξ</text>
<text x="189.40" y="24.60" font-size="12.40" textLength="5.58" lengthAdjust="spacingAndGlyphs">1</text>
<text x="197.20" y="21.90" font-size="17.60">,</text>
<text x="202.75" y="21.90" font-size="18.20" class="i">ξ</text>
<text x="211.60" y="24.60" font-size="12.40" textLength="7.44" lengthAdjust="spacingAndGlyphs">2</text>
<text x="219.77" y="21.90" font-size="17.60">)</text>
<text x="229.96" y="21.90" font-size="18.40" textLength="10.49" lengthAdjust="spacingAndGlyphs" style="stroke-width:0">d</text>
<text x="239.95" y="21.90" font-size="18.20" class="i">ξ</text>
<text x="248.80" y="24.60" font-size="12.40" textLength="5.58" lengthAdjust="spacingAndGlyphs">1</text>
<text x="254.36" y="21.90" font-size="18.40" textLength="10.49" lengthAdjust="spacingAndGlyphs" style="stroke-width:0">d</text>
<text x="264.85" y="21.90" font-size="18.20" class="i">ξ</text>
<text x="273.98" y="24.60" font-size="12.40" textLength="7.75" lengthAdjust="spacingAndGlyphs">2</text>
<rect x="507" y="19.9" width="174.8" height="174.2" fill="#f0f0f0" stroke="#3b3b3b" stroke-width="2.9"/>
<rect x="434.4" y="91.7" width="175.1" height="174.7" fill="#f0f0f0" stroke="none"/>
<rect x="507" y="91.9" width="102.5" height="102.2" fill="#e0e0e0" stroke="none"/>
<rect x="507" y="19.9" width="174.8" height="174.2" fill="none" stroke="#3b3b3b" stroke-width="2.9"/>
<rect x="434.4" y="91.7" width="175.1" height="174.7" fill="none" stroke="#3b3b3b" stroke-width="2.9"/>
<rect x="458.7" y="68.0" width="174.6" height="174.3" fill="none" stroke="#303030" stroke-width="0.95" stroke-dasharray="3.3 1.1"/>
<path d="M506.3,202.2V225.4M489.0,193.5H498.8" stroke="#000" stroke-width="1.1" fill="none"/>
<path d="M496,104V183M518,220.4H597" stroke="#000" stroke-width="1.55" fill="none"/>
<path transform="translate(496.0 95.8) rotate(-90)" d="M0,0L-10.6,3.9L-9.2,0L-10.6,-3.9Z" fill="#000"/>
<path transform="translate(496.0 191.4) rotate(90)" d="M0,0L-10.6,3.9L-9.2,0L-10.6,-3.9Z" fill="#000"/>
<path transform="translate(509.8 220.4) rotate(180)" d="M0,0L-10.6,3.9L-9.2,0L-10.6,-3.9Z" fill="#000"/>
<path transform="translate(605.1 220.4) rotate(0)" d="M0,0L-10.6,3.9L-9.2,0L-10.6,-3.9Z" fill="#000"/>
<circle cx="506.7" cy="194.0" r="5.5" fill="#4d4d4d"/>
<text x="515.16" y="185.80" font-size="16.20" class="i">N</text>
<text x="526.67" y="188.60" font-size="11.50" textLength="5.17" lengthAdjust="spacingAndGlyphs">1</text>
<text x="550.41" y="212.00" font-size="16.20" class="i">ξ</text>
<text x="558.80" y="206.00" font-size="11.50" textLength="5.51" lengthAdjust="spacingAndGlyphs">c</text>
<text x="559.07" y="217.60" font-size="11.50" textLength="5.17" lengthAdjust="spacingAndGlyphs">1</text>
<g transform="translate(485.7 149.8) rotate(-90)">
<text x="0.00" y="0.00" font-size="16.20" class="i">ξ</text>
<text x="8.00" y="-6.00" font-size="11.50" textLength="5.50" lengthAdjust="spacingAndGlyphs">c</text>
<text x="8.00" y="7.00" font-size="11.50" textLength="6.40" lengthAdjust="spacingAndGlyphs">2</text>
</g>
<rect x="442.2" y="274.8" width="243" height="41" fill="#f1f1f1"/>
<text x="449.46" y="300.60" font-size="16.20" class="i">N</text>
<text x="460.47" y="303.00" font-size="11.50" textLength="5.17" lengthAdjust="spacingAndGlyphs">1</text>
<text x="470.11" y="301.90" font-size="16.20" textLength="10.05" lengthAdjust="spacingAndGlyphs">=</text>
<text x="484.05" y="301.40" font-size="16.20" textLength="9.59" lengthAdjust="spacingAndGlyphs">−</text>
<text x="496.69" y="289.70" font-size="14.20" textLength="6.74" lengthAdjust="spacingAndGlyphs">1</text>
<path d="M496.2,295.8H504.2" stroke="#000" stroke-width="1.4"/>
<text x="496.07" y="311.60" font-size="14.20" textLength="8.16" lengthAdjust="spacingAndGlyphs">4</text>
<text x="507.45" y="300.00" font-size="14.40" textLength="4.56" lengthAdjust="spacingAndGlyphs">(</text>
<text x="511.39" y="300.60" font-size="16.20" textLength="7.29" lengthAdjust="spacingAndGlyphs">1</text>
<text x="522.15" y="301.40" font-size="16.20" textLength="9.59" lengthAdjust="spacingAndGlyphs">−</text>
<text x="535.01" y="300.60" font-size="16.20" class="i">ξ</text>
<text x="542.67" y="303.00" font-size="11.50" textLength="5.17" lengthAdjust="spacingAndGlyphs">1</text>
<text x="549.39" y="300.00" font-size="14.40" textLength="4.56" lengthAdjust="spacingAndGlyphs">)</text>
<text x="555.95" y="300.00" font-size="14.40" textLength="4.56" lengthAdjust="spacingAndGlyphs">(</text>
<text x="559.89" y="300.60" font-size="16.20" textLength="7.29" lengthAdjust="spacingAndGlyphs">1</text>
<text x="570.65" y="301.40" font-size="16.20" textLength="9.59" lengthAdjust="spacingAndGlyphs">−</text>
<text x="583.61" y="300.60" font-size="16.20" class="i">ξ</text>
<text x="590.75" y="303.00" font-size="11.50" textLength="6.90" lengthAdjust="spacingAndGlyphs">2</text>
<text x="598.39" y="300.00" font-size="14.40" textLength="4.56" lengthAdjust="spacingAndGlyphs">)</text>
<text x="604.45" y="300.00" font-size="14.40" textLength="4.56" lengthAdjust="spacingAndGlyphs">(</text>
<text x="608.39" y="300.60" font-size="16.20" textLength="7.29" lengthAdjust="spacingAndGlyphs">1</text>
<text x="619.05" y="301.40" font-size="16.20" textLength="9.59" lengthAdjust="spacingAndGlyphs">+</text>
<text x="631.71" y="300.60" font-size="16.20" class="i">ξ</text>
<text x="638.97" y="303.00" font-size="11.50" textLength="5.17" lengthAdjust="spacingAndGlyphs">1</text>
<text x="648.65" y="301.40" font-size="16.20" textLength="9.59" lengthAdjust="spacingAndGlyphs">+</text>
<text x="661.31" y="300.60" font-size="16.20" class="i">ξ</text>
<text x="668.85" y="303.00" font-size="11.50" textLength="6.90" lengthAdjust="spacingAndGlyphs">2</text>
<text x="676.59" y="300.00" font-size="14.40" textLength="4.56" lengthAdjust="spacingAndGlyphs">)</text>
</svg></body></html>
